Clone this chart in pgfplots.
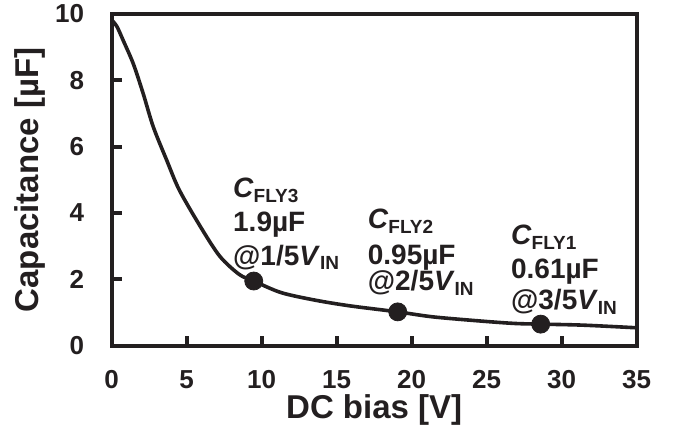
\documentclass[border=0pt]{standalone}
\usepackage{pgfplots}
\pgfplotsset{compat=1.18}
\usepackage{fontspec}
\setmainfont{Liberation Sans}
\definecolor{ink}{HTML}{231F20}
\newcommand{\sub}[1]{\raisebox{-0.3ex}{\fontsize{9.5bp}{9.5bp}\selectfont #1}}
\begin{document}
\begin{tikzpicture}
\begin{axis}[
  scale only axis,
  width=262.5bp, height=165.85bp,
  xmin=0, xmax=35, ymin=0, ymax=10,
  xtick={0,5,...,35}, ytick={0,2,...,10},
  tick align=inside,
  xtick pos=bottom, ytick pos=left,
  major tick length=5bp,
  axis line style={line width=2bp, color=ink},
  every tick/.style={line width=2bp, color=ink},
  /pgf/number format/assume math mode=true,
  ticklabel style={font=\fontsize{13bp}{13bp}\selectfont\bfseries, color=ink},
  yticklabel style={xshift=-10.3bp},
  xticklabel style={yshift=-9bp},
  every axis y label/.style={at={(axis description cs:-0.156,0.5)}, rotate=90, anchor=center},
  every axis x label/.style={at={(axis description cs:0.5,-0.193)}, anchor=center},
  label style={font=\fontsize{16.5bp}{16.5bp}\selectfont\bfseries, color=ink},
  ylabel={Capacitance [µF]},
  xlabel={DC bias [V]},
  clip=false,
]
\addplot[smooth, line width=1.8bp, color=ink] coordinates {
(0,9.82) (0.35,9.62) (0.77,9.2) (1.44,8.5) (2.1,7.6) (2.77,6.6) (3.66,5.6) (4.5,4.7)
(5.9,3.6) (7.2,2.7) (8.5,2.15) (9.47,1.95) (11.3,1.6) (13.6,1.37) (15.9,1.2)
(19.07,1.02) (21.4,0.87) (24.7,0.74) (26.9,0.67) (28.6,0.65) (31.4,0.62) (35,0.54)
};
\addplot[only marks, mark=*, mark size=4.5bp, color=ink] coordinates {
(9.47,1.95) (19.07,1.02) (28.6,0.65)
};
\begin{scope}[every node/.style={anchor=west, inner sep=0pt, color=ink, font=\fontsize{14bp}{14bp}\selectfont\bfseries}]
\node at (axis cs:8.07,4.69) {\textit{C}\sub{FLY3}};
\node at (axis cs:8.07,3.64) {1.9µF};
\node at (axis cs:8.07,2.67) {@1/5\textit{V}\sub{IN}};
\node at (axis cs:17.05,3.75) {\textit{C}\sub{FLY2}};
\node at (axis cs:17.05,2.67) {0.95µF};
\node at (axis cs:17.05,1.89) {@2/5\textit{V}\sub{IN}};
\node at (axis cs:26.6,3.27) {\textit{C}\sub{FLY1}};
\node at (axis cs:26.6,2.22) {0.61µF};
\node at (axis cs:26.6,1.32) {@3/5\textit{V}\sub{IN}};
\end{scope}
\end{axis}
\pgfresetboundingbox
\path (current axis.south west) ++(-55.85bp,-48.15bp) rectangle ++(337bp,221bp);
\end{tikzpicture}
\end{document}
